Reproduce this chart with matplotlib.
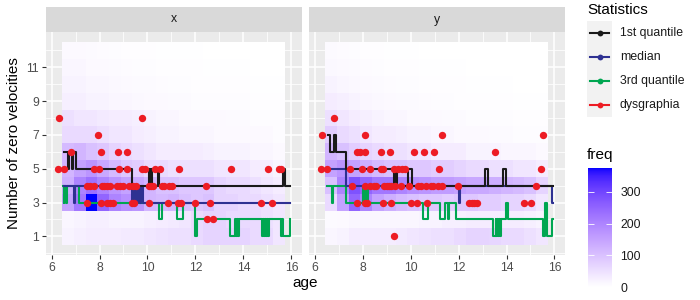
import numpy as np
import matplotlib.pyplot as plt
from matplotlib.colors import LinearSegmentedColormap, Normalize
from matplotlib.patches import Rectangle

plt.rcParams['font.family'] = ['Liberation Sans', 'DejaVu Sans']

# ---- data -------------------------------------------------------------
facets = ['x', 'y']
counts = np.arange(1, 13)          # number of zero velocities (tile rows)
age_lo, age_hi = 6.44, 15.72       # age range covered by the tiles (19 bins)

# freq per tile, rows = counts 1..12, cols = age bins
freq_x = np.array([
    [20, 25, 30, 30, 30, 35, 35, 40, 45, 50, 50, 60, 70, 70, 70, 70, 60, 60, 40],
    [15, 20, 25, 25, 20, 20, 20, 25, 30, 35, 40, 60, 70, 70, 60, 60, 60, 50, 40],
    [150, 220, 375, 250, 200, 180, 170, 120, 110, 120, 100, 90, 100, 70, 70, 60, 60, 50, 40],
    [130, 200, 230, 200, 170, 150, 140, 120, 100, 100, 90, 90, 90, 70, 60, 60, 50, 40, 30],
    [120, 150, 170, 140, 110, 90, 80, 60, 60, 50, 50, 50, 50, 40, 40, 40, 30, 30, 20],
    [110, 120, 100, 90, 70, 60, 50, 40, 30, 30, 30, 30, 25, 20, 20, 20, 15, 15, 10],
    [60, 60, 60, 50, 40, 40, 30, 25, 20, 20, 15, 15, 15, 10, 10, 10, 10, 10, 5],
    [50, 40, 40, 35, 30, 30, 25, 20, 15, 15, 10, 10, 10, 10, 8, 8, 5, 5, 5],
    [25, 25, 20, 20, 15, 15, 12, 10, 10, 8, 8, 5, 5, 5, 5, 5, 3, 3, 3],
    [20, 20, 15, 15, 12, 10, 8, 8, 6, 5, 5, 4, 4, 3, 3, 3, 2, 2, 2],
    [15, 15, 10, 10, 8, 6, 5, 5, 4, 3, 3, 3, 2, 2, 2, 2, 1, 1, 1],
    [10, 10, 8, 6, 5, 4, 3, 3, 2, 2, 2, 2, 1, 1, 1, 1, 1, 1, 1],
])
freq_y = np.array([
    [15, 20, 30, 30, 30, 30, 35, 40, 45, 50, 50, 60, 70, 70, 65, 60, 60, 50, 40],
    [8, 10, 15, 15, 15, 15, 15, 15, 20, 20, 25, 25, 30, 30, 30, 30, 30, 25, 20],
    [60, 150, 250, 200, 150, 130, 110, 100, 90, 90, 80, 90, 90, 80, 80, 70, 70, 60, 40],
    [100, 200, 280, 250, 220, 220, 200, 180, 170, 160, 160, 150, 140, 140, 130, 120, 110, 100, 70],
    [150, 170, 150, 130, 110, 100, 100, 90, 90, 80, 80, 70, 60, 60, 50, 50, 40, 40, 30],
    [120, 100, 80, 70, 60, 50, 50, 40, 40, 30, 30, 30, 20, 20, 20, 15, 15, 15, 10],
    [80, 60, 50, 40, 30, 30, 25, 20, 20, 15, 15, 10, 10, 10, 8, 8, 5, 5, 5],
    [50, 40, 30, 25, 20, 15, 15, 10, 10, 10, 8, 8, 5, 5, 5, 5, 3, 3, 3],
    [30, 25, 20, 15, 12, 10, 8, 8, 6, 5, 5, 4, 4, 3, 3, 3, 2, 2, 2],
    [20, 15, 12, 10, 8, 6, 5, 5, 4, 3, 3, 3, 2, 2, 2, 2, 1, 1, 1],
    [12, 10, 8, 6, 5, 4, 3, 3, 2, 2, 2, 2, 1, 1, 1, 1, 1, 1, 1],
    [8, 6, 5, 4, 3, 2, 2, 2, 1, 1, 1, 1, 1, 1, 1, 1, 1, 1, 1],
])

# quantile step lines (age where the value starts, value)
q1_x_age = [6.54, 6.70, 6.74, 6.84, 6.88, 7.04, 9.35, 10.08, 10.12, 10.15, 10.2, 10.42, 10.48, 15.63, 15.72, 15.95]
q1_x_val = [6, 5, 6, 5, 6, 5, 4, 5, 4, 5, 4, 5, 4, 5, 4, 4]
med_x_age = [6.5, 6.92, 6.97, 9.35, 9.42, 9.46, 9.52, 9.56, 9.6, 9.68, 9.75, 9.8, 15.95]
med_x_val = [4, 3, 4, 3, 4, 3, 4, 3, 4, 3, 4, 3, 3]
q3_x_age = [6.47, 6.5, 6.53, 6.62, 6.66, 7.13, 10.5, 10.6, 11.22, 11.49, 11.98, 12.05, 13.43,
            13.64, 13.68, 13.72, 13.76, 13.8, 13.85, 14.77, 14.82, 14.86, 14.9, 14.95, 15.0,
            15.04, 15.08, 15.58, 15.62, 15.66, 15.74, 15.93]
q3_x_val = [4, 3, 4, 3, 4, 3, 2, 3, 2, 3, 1, 2, 1,
            2, 1, 2, 1, 2, 2, 1, 2, 1, 2, 1, 2,
            1, 2, 1, 2, 1, 1, 2]

q1_y_age = [6.55, 6.63, 6.8, 6.9, 7.3, 9.32, 9.36, 9.42, 9.9, 10.04, 13.12, 13.22, 13.84, 13.97, 15.95]
q1_y_val = [7, 6, 7, 6, 5, 4, 5, 4, 5, 4, 5, 4, 5, 4, 4]
med_y_age = [6.5, 7.3, 12.0, 12.06, 15.89, 15.95]
med_y_val = [5, 4, 3, 4, 3, 3]
q3_y_age = [6.5, 6.71, 6.77, 7.3, 8.02, 8.06, 8.09, 8.13, 8.16, 8.2, 10.52, 10.72, 11.21,
            11.42, 11.55, 11.62, 11.88, 13.44, 13.55, 13.58, 13.62, 13.65, 13.68, 13.72, 13.76,
            13.98, 14.06, 15.54, 15.62, 15.7, 15.9, 15.95]
q3_y_val = [4, 3, 4, 3, 4, 3, 4, 3, 4, 3, 2, 3, 2,
            3, 2, 3, 2, 1, 2, 1, 2, 1, 2, 1, 2,
            3, 2, 1, 3, 1, 2, 2]

# dysgraphia children
dys_x_age = [6.30, 9.77,
             7.93,
             6.82, 8.08, 8.79, 9.16,
             6.27, 6.52, 7.76, 7.97, 8.83, 9.14, 9.78, 9.88, 10.3, 10.53, 11.3, 13.5, 15.02, 15.47, 15.55,
             7.48, 7.59, 7.78, 8.1, 8.2, 8.31, 8.42, 8.75, 8.86, 8.97, 9.25, 9.39, 9.51, 10.05, 10.14,
             10.22, 10.6, 10.7, 10.88, 11.01, 12.43,
             7.48, 8.08, 8.32, 8.44, 8.56, 9.35, 9.45, 10.07, 10.85, 11.26, 11.38, 11.99, 12.61, 14.72, 15.21,
             12.49, 12.74]
dys_x_val = [8, 8,
             7,
             6, 6, 6, 6,
             5, 5, 5, 5, 5, 5, 5, 5, 5, 5, 5, 5, 5, 5, 5,
             4, 4, 4, 4, 4, 4, 4, 4, 4, 4, 4, 4, 4, 4, 4,
             4, 4, 4, 4, 4, 4,
             3, 3, 3, 3, 3, 3, 3, 3, 3, 3, 3, 3, 3, 3, 3,
             2, 2]
dys_y_age = [6.82,
             6.28, 8.08, 11.29, 15.51,
             7.75, 7.89, 8.09, 8.78, 9.13, 10.14, 10.56, 10.97, 13.5,
             6.27, 6.5, 7.47, 7.97, 8.3, 8.75, 8.83, 9.31, 9.48, 9.62, 9.78, 11.19, 15.45,
             7.55, 8.08, 8.3, 8.45, 8.55, 8.9, 9.0, 9.1, 9.2, 9.35, 9.6, 9.95, 10.3, 10.45, 10.65,
             10.85, 10.95, 11.15, 11.3, 11.98, 15.21,
             7.76, 8.1, 8.17, 8.85, 9.2, 10.0, 10.25, 10.67, 12.42, 12.55, 12.65, 12.75, 14.71, 15.03,
             9.32]
dys_y_val = [8,
             7, 7, 7, 7,
             6, 6, 6, 6, 6, 6, 6, 6, 6,
             5, 5, 5, 5, 5, 5, 5, 5, 5, 5, 5, 5, 5,
             4, 4, 4, 4, 4, 4, 4, 4, 4, 4, 4, 4, 4, 4, 4,
             4, 4, 4, 4, 4, 4,
             3, 3, 3, 3, 3, 3, 3, 3, 3, 3, 3, 3, 3, 3,
             1]

stats_labels = ['1st quantile', 'median', '3rd quantile', 'dysgraphia']
stats_colors = ['#1A1A1A', '#2E3192', '#00A651', '#ED1C24']

# ---- white -> blue gradient interpolated in CIELAB (like ggplot) -------
M = np.array([[0.4124564, 0.3575761, 0.1804375],
              [0.2126729, 0.7151522, 0.0721750],
              [0.0193339, 0.1191920, 0.9503041]])
WP = M.sum(axis=1)


def to_lab(rgb):
    c = np.asarray(rgb, float)
    lin = np.where(c <= 0.04045, c / 12.92, ((c + 0.055) / 1.055) ** 2.4)
    xyz = M @ lin / WP
    f = np.where(xyz > (6 / 29) ** 3, np.cbrt(xyz), xyz / (3 * (6 / 29) ** 2) + 4 / 29)
    return np.array([116 * f[1] - 16, 500 * (f[0] - f[1]), 200 * (f[1] - f[2])])


def from_lab(lab):
    L, a, b = lab
    fy = (L + 16) / 116
    f = np.array([fy + a / 500, fy, fy - b / 200])
    xyz = np.where(f > 6 / 29, f ** 3, 3 * (6 / 29) ** 2 * (f - 4 / 29)) * WP
    lin = np.clip(np.linalg.solve(M, xyz), 0, 1)
    c = np.where(lin <= 0.0031308, 12.92 * lin, 1.055 * lin ** (1 / 2.4) - 0.055)
    return np.clip(c, 0, 1)


lab0, lab1 = to_lab([1, 1, 1]), to_lab([0, 0, 1])
cmap = LinearSegmentedColormap.from_list(
    'freq', [from_lab(lab0 + t * (lab1 - lab0)) for t in np.linspace(0, 1, 64)])
norm = Normalize(0, max(freq_x.max(), freq_y.max()))

# ---- layout -----------------------------------------------------------
W, H = 700, 300


def px(l, t, r, b):
    return [l / W, 1 - b / H, (r - l) / W, (b - t) / H]


fig = plt.figure(figsize=(7, 3), dpi=100)
age_edges = np.linspace(age_lo, age_hi, freq_x.shape[1] + 1)
count_edges = np.append(counts - 0.5, counts[-1] + 0.5)

panels = [
    (freq_x, (q1_x_age, q1_x_val), (med_x_age, med_x_val), (q3_x_age, q3_x_val), (dys_x_age, dys_x_val)),
    (freq_y, (q1_y_age, q1_y_val), (med_y_age, med_y_val), (q3_y_age, q3_y_val), (dys_y_age, dys_y_val)),
]
lefts = [(46, 302), (309.3, 565)]

for i, (name, (freq, q1, med, q3, dys), (l, r)) in enumerate(zip(facets, panels, lefts)):
    ax = fig.add_axes(px(l, 31.7, r, 255))
    ax.set_facecolor('#EBEBEB')
    ax.set_axisbelow(True)
    for s in ax.spines.values():
        s.set_visible(False)
    ax.set_xlim(5.77, 16.44)
    ax.set_ylim(-0.1, 13.1)
    ax.set_xticks([6, 8, 10, 12, 14, 16])
    ax.set_xticks([7, 9, 11, 13, 15], minor=True)
    ax.set_yticks([1, 3, 5, 7, 9, 11])
    ax.set_yticks([0, 2, 4, 6, 8, 10, 12], minor=True)
    ax.grid(which='major', color='white', lw=1.1)
    ax.grid(which='minor', color='white', lw=0.55)
    ax.tick_params(which='major', length=3, width=0.8, color='#333333',
                   labelsize=8.8, labelcolor='#4D4D4D', pad=2)
    ax.tick_params(which='minor', length=0)
    if i > 0:
        ax.tick_params(axis='y', left=False, labelleft=False)

    mesh = ax.pcolormesh(age_edges, count_edges, freq, cmap=cmap, norm=norm, zorder=1)
    ax.step(q3[0], q3[1], where='post', color=stats_colors[2], lw=1.5, zorder=3)
    ax.step(med[0], med[1], where='post', color=stats_colors[1], lw=1.5, zorder=3)
    ax.step(q1[0], q1[1], where='post', color=stats_colors[0], lw=1.5, zorder=3)
    ax.scatter(dys[0], dys[1], s=28, color=stats_colors[3], lw=0, zorder=4)

    sax = fig.add_axes(px(l, 7.3, r, 31.7))
    sax.set_facecolor('#D9D9D9')
    sax.set_xticks([])
    sax.set_yticks([])
    for s in sax.spines.values():
        s.set_visible(False)
    sax.text(0.5, 0.5, name, ha='center', va='center', size=8.8, color='#1A1A1A',
             transform=sax.transAxes)

fig.text(14 / W, 1 - 143.3 / H, 'Number of zero velocities', rotation=90,
         ha='center', va='center', size=11)
fig.text(305.5 / W, 1 - 283 / H, 'age', ha='center', va='center', size=11)

# ---- legend (drawn by hand, ggplot style) -----------------------------
lax = fig.add_axes([0, 0, 1, 1], zorder=-1)
lax.set_xlim(0, W)
lax.set_ylim(H, 0)
lax.axis('off')
lax.text(587, 10, 'Statistics', size=11, va='center', ha='left')
for k, (lab, col) in enumerate(zip(stats_labels, stats_colors)):
    top = 20.5 + k * 24.2
    lax.add_patch(Rectangle((587, top), 25, 24.2, facecolor='#F2F2F2', edgecolor='none'))
    cy = top + 12.1
    lax.plot([590, 609], [cy, cy], color=col, lw=1.5)
    lax.plot([599.5], [cy], 'o', color=col, ms=4.2, mew=0)
    lax.text(620, cy, lab, size=8.8, va='center', ha='left', color='#1A1A1A')

lax.text(587, 155, 'freq', size=11, va='center', ha='left')
cax = fig.add_axes(px(588, 168, 612, 287))
cb = fig.colorbar(mesh, cax=cax)
cb.outline.set_visible(False)
cb.set_ticks([0, 100, 200, 300])
cax.tick_params(left=True, right=True, labelleft=False, labelright=True, direction='in',
                length=4.5, width=0.6, color='white', labelsize=8.8, labelcolor='#1A1A1A', pad=6)

fig.savefig('out.png', dpi=100)
